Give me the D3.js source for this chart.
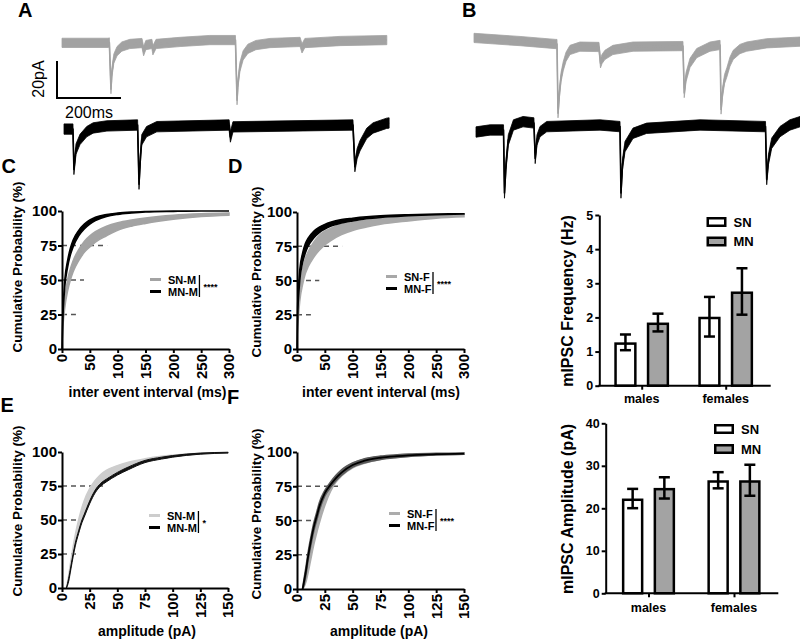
<!DOCTYPE html>
<html><head><meta charset="utf-8">
<script src="https://cdn.jsdelivr.net/npm/d3@7"></script>
<style>body{margin:0;background:#fff}svg{display:block}</style>
</head><body>
<svg id="c" width="800" height="641"></svg>
<script>
// ---------------- DATA ----------------
// example traces: [time (ms), current (pA, relative to baseline)]
const traceA_SN = [[0,-1],[144,-1],[148,-0.8],[153,-26],[156,-17],[162,-9.5],[172,-5.5],[187,-3],[212,-1.6],[250,-1.1],[255,-5.5],[262,-2.2],[281,-1.6],[284,-5],[294,-1.6],[369,-0.5],[462,0.5],[542,0.5],[547,-32],[550,-22.5],[556,-14],[566,-7.8],[581,-4.2],[606,-2.2],[650,-1.1],[744,-0.5],[750,-4],[759,-1.1],[869,0],[1015,0.5]];
const traceA_MN = [[0,-2.2],[28,-2.2],[31,-24],[37.5,-13],[50,-7.8],[71,-3.6],[91,-1.6],[134,-0.5],[230,0],[234.4,-32],[239,-17],[243,-8],[258,-3.6],[290,-0.9],[516,0],[520,-6.5],[528,-1],[903,0],[909,-22.5],[916,-15.5],[925,-11.2],[946,-4.5],[966,-1.6],[1008,0.9],[1016,1.1]];
const traceB_SN = [[0,2.2],[144,0.5],[256,-1.1],[259.4,-1.1],[262.5,-38.5],[267,-27.5],[272,-19],[279,-13],[287.5,-8],[300,-4.3],[331,-2.5],[390.6,-2.7],[395.3,-11.5],[400,-9.2],[409,-7],[434,-4.3],[497,-2.5],[653,-2.2],[657,-27.6],[662.5,-19],[675,-11.3],[696,-6],[737.5,-2.5],[769,-1.6],[772,-36.5],[776.5,-27.5],[783,-20],[790,-16.5],[800,-10.6],[810,-7],[831,-3.8],[852,-2.5],[915,-0.7],[1020,0.2]];
const traceB_MN = [[0,-2.7],[44,-1.6],[86,-1.6],[89,-35.7],[94,-20],[101,-7],[117,1.1],[147,2.9],[181,2.2],[185,-17],[190.6,-7],[200,-2.5],[221,0.2],[387.5,1.1],[450,0.2],[453,-35.7],[458,-20],[465.6,-10.6],[490.6,-3.4],[533,-0.7],[700,1.1],[904.7,0.2],[908.4,-28.4],[914,-17.5],[924,-8.8],[950,-2.5],[981,1.1],[1013,2.9]];
const noiseSN = 2.5, noiseMN = 2.8;          // pA noise band half-width
const scaleBarValues = [200, 20];             // ms, pA

// cumulative distributions (%), lower / upper band
const cumC_x   = [0,1,2,5,10,15,20,30,40,50,60,80,100,125,150,200,250,300];
const cumC_SNhi= [0,16,22,36,50,58,64,72,78,82,85,89,91.5,93.5,95,97,98,98.5];
const cumC_SNlo= [0,12,18,30,42,50,56,64,70,74,77.5,82,86,89,91,94,96,97];
const cumC_MNhi= [0,20,30,50,64,73,79,86,90.5,93.5,95.5,97.5,98.5,99.2,99.6,100,100,100];
const cumC_MNlo= [0,16,26,45,59,68,74,82,87,90.5,93,96,97.5,98.5,99.2,99.7,100,100];

const cumD_x   = [0,1,2,5,10,15,20,30,40,50,60,80,100,125,150,200,250,300];
const cumD_SNhi= [0,22,30,46,58,66,71,78,83,86,88,91,92.5,94,95,96.5,97.5,98];
const cumD_SNlo= [0,14,20,35,47,55,60,67,72,76,79,83.5,86.5,89,91,93.5,95.5,96.5];
const cumD_MNhi= [0,30,40,58,70,77,81,86,89,91,92.5,94.5,95.5,96.5,97.2,98,98.5,98.8];
const cumD_MNlo= [0,24,32,50,63,70,75,81,85,87.5,89.5,92,93.5,95,96,97.2,98,98.5];

const cumE_x   = [4,6,8,10,12,15,18,20,25,30,35,40,50,60,75,90,100,125,150];
const cumE_SNhi= [0,9,20,30,39,50,59,64,73,79,83.5,86.5,90,92.5,95,96.8,97.6,99,99.6];
const cumE_SNlo= [0,5,14,23,31,42,50,55,65,72,77,81,86,89.5,93,95.5,96.8,98.6,99.4];
const cumE_MNhi= [0,7,16,25,33,42,50,54,64,72,77,80,85,89,93.8,96.2,97.4,99.2,99.8];
const cumE_MNlo= [0,5,14,23,31,40,48,52,62,70,75,78,83,87,92.2,94.8,96.2,98.4,99.2];

const cumF_x   = [5,6,8,10,12,15,18,20,25,30,35,40,50,60,75,90,100,125,150];
const cumF_SNhi= [0,2,9,18,27,39,49,55,67,76,82,86.5,92,94.5,96.5,97.5,98,98.6,99];
const cumF_SNlo= [0,1,5,12,20,32,42,48,61,71,78,82.5,88.5,91.5,94.5,96,96.8,97.8,98.4];
const cumF_MNhi= [0,6,16,27,36,48,57,63,72,78,83,87,92,95,97,98,98.5,99,99.3];
const cumF_MNlo= [0,2,10,21,30,42,51,57,68,74,79,83,89,92,94.6,96,96.7,97.8,98.3];

// reference dashed lines: [percentile, extent on x]
const dashC = [[25,25],[50,39.5],[75,81]];
const dashD = [[25,25],[50,40],[75,81]];
const dashE = [[25,13.5],[50,18],[75,39]];
const dashF = [[25,11.7],[50,20],[75,40]];

const cumYTicks = [0,25,50,75,100];
const iviTicks  = [0,50,100,150,200,250,300];
const ampTicks  = [0,25,50,75,100,125,150];

// bar charts
const groups = ["males","females"];
const conditions = ["SN","MN"];
const freqSN = [1.27,2.02], freqSNerr = [0.23,0.58];
const freqMN = [1.85,2.76], freqMNerr = [0.26,0.68];
const ampSN  = [22.3,26.6], ampSNerr  = [2.27,1.9];
const ampMN  = [24.8,26.6], ampMNerr  = [2.5,3.65];
const freqTicks = [0,1,2,3,4,5];
const ampBarTicks = [0,10,20,30,40];

// ---------------- DRAW ----------------
const FF = '"Liberation Sans", Arial, Helvetica, sans-serif';
const svg = d3.select("#c").attr("font-family", FF);

function txt(x, y, s, size, weight, opts = {}) {
  const t = svg.append("text").text(s)
    .attr("font-size", size).attr("font-weight", weight || "normal").attr("fill", "#000");
  if (opts.anchor) t.attr("text-anchor", opts.anchor);
  if (opts.rotate) t.attr("transform", `translate(${x},${y}) rotate(-90)`);
  else t.attr("x", x).attr("y", y);
  return t;
}

// ---- traces ----
const xT = d3.scaleLinear().domain([0, 1000]).range([0, 320]);
const yT = d3.scaleLinear().domain([0, -20]).range([0, 37]);
function drawTrace(data, x0, base, color, noise) {
  const g = svg.append("g").attr("transform", `translate(${x0},${base})`);
  g.append("path").datum(data)
    .attr("d", d3.area().x(d => xT(d[0])).y0(d => yT(d[1] - noise)).y1(d => yT(d[1] + noise)))
    .attr("fill", color).attr("stroke", color).attr("stroke-width", 0.8);
  g.append("path").datum(data)
    .attr("d", d3.line().x(d => xT(d[0])).y(d => yT(d[1])))
    .attr("fill", "none").attr("stroke", color).attr("stroke-width", 1.6).attr("stroke-linejoin", "round");
}
const traceGray = "#a2a2a2";
drawTrace(traceA_SN, 62, 41, traceGray, noiseSN);
drawTrace(traceA_MN, 64, 125, "#000", noiseMN);
drawTrace(traceB_SN, 474, 42, traceGray, noiseSN);
drawTrace(traceB_MN, 476, 127, "#000", noiseMN);

// scale bar
{
  const sx = 57, sy = 98;
  svg.append("path")
    .attr("d", `M${sx},${sy - yT(-scaleBarValues[1])}V${sy}H${sx + xT(scaleBarValues[0])}`)
    .attr("fill", "none").attr("stroke", "#000").attr("stroke-width", 2);
  txt(44, 79, scaleBarValues[1] + "pA", 16, "normal", { anchor: "middle", rotate: true });
  txt(65, 118, scaleBarValues[0] + "ms", 16, "normal");
}

// ---- cumulative panels ----
function cumPanel(o) {
  const x = d3.scaleLinear().domain(o.xDomain).range(o.xRange);
  const y = d3.scaleLinear().domain([0, 100]).range(o.yRange);
  const g = svg.append("g");
  g.selectAll("line.dash").data(o.dashes).join("line").attr("class", "dash")
    .attr("x1", x(0)).attr("x2", d => x(d[1])).attr("y1", d => y(d[0])).attr("y2", d => y(d[0]))
    .attr("stroke", "#555").attr("stroke-width", 1.5).attr("stroke-dasharray", "5,4");
  o.series.forEach(s => {
    const pts = s.x.map((xv, i) => ({ x: xv, lo: s.lo[i], hi: s.hi[i] }));
    g.append("path").datum(pts)
      .attr("d", d3.area().x(d => x(d.x)).y0(d => y(d.lo)).y1(d => y(d.hi)).curve(d3.curveMonotoneX))
      .attr("fill", s.fill).attr("stroke", s.fill).attr("stroke-width", s.sw || 1.5);
    if (s.line) g.append("path").datum(pts)
      .attr("d", d3.line().x(d => x(d.x)).y(d => y((d.lo + d.hi) / 2)).curve(d3.curveMonotoneX))
      .attr("fill", "none").attr("stroke", s.line).attr("stroke-width", 1.8);
  });
  const ya = g.append("g").attr("transform", `translate(${o.xRange[0]},0)`)
    .call(d3.axisLeft(y).tickValues(cumYTicks).tickSize(4).tickSizeOuter(0).tickPadding(1).tickFormat(d3.format("d")));
  const xa = g.append("g").attr("transform", `translate(0,${o.yRange[0]})`)
    .call(d3.axisBottom(x).tickValues(o.xTicks).tickSize(4).tickSizeOuter(0).tickFormat(() => ""));
  [ya, xa].forEach(a => {
    a.attr("font-family", FF).attr("font-size", 15).attr("font-weight", "bold");
    a.select(".domain").attr("stroke-width", 2);
    a.selectAll(".tick line").attr("stroke-width", 2);
    a.selectAll("text").attr("fill", "#000");
  });
  // rotated x tick labels
  const lab = g.append("g").attr("class", "xlabels");
  o.xTicks.forEach(v => {
    lab.append("g").attr("transform", `translate(${x(v)},${o.yRange[0] + 5})`)
      .append("g").attr("transform", "rotate(-90)")
      .append("text").attr("x", 0).attr("y", 0).attr("dy", "0.36em")
      .style("text-anchor", "end").text(String(v))
      .attr("font-size", 15).attr("font-weight", "bold").attr("fill", "#000");
  });
  // labels
  txt(o.yLabel[0], o.yLabel[1], "Cumulative Probability (%)", 13.5, "bold", { anchor: "middle", rotate: true });
  txt(o.xLabel[0], o.xLabel[1], o.xText, 14, "bold", { anchor: "middle" });
  // legend
  const [lx, ly] = o.legend;
  let maxR = 0;
  o.series.forEach((s, i) => {
    const yy = ly + i * 12;
    g.append("line").attr("x1", lx).attr("x2", lx + 11).attr("y1", yy).attr("y2", yy)
      .attr("stroke", s.legendColor).attr("stroke-width", 3);
    const t = g.append("text").attr("x", lx + 18).attr("y", yy + 4.5).text(s.name)
      .attr("font-size", 11).attr("font-weight", "bold").attr("fill", "#000");
    maxR = Math.max(maxR, lx + 18 + t.node().getComputedTextLength());
  });
  const bx = maxR + 1.5;
  g.append("line").attr("x1", bx).attr("x2", bx).attr("y1", ly - 4.5).attr("y2", ly + 17.5)
    .attr("stroke", "#000").attr("stroke-width", 1.3);
  g.append("text").attr("x", bx + 4).attr("y", ly + 10.5).text(o.stars)
    .attr("font-size", 9).attr("font-weight", "bold").attr("fill", "#000");
}

cumPanel({
  xDomain: [0, 300], xRange: [62, 229], yRange: [349, 211], xTicks: iviTicks, dashes: dashC,
  series: [
    { name: "SN-M", x: cumC_x, lo: cumC_SNlo, hi: cumC_SNhi, fill: "#a3a3a3", legendColor: "#a3a3a3" },
    { name: "MN-M", x: cumC_x, lo: cumC_MNlo, hi: cumC_MNhi, fill: "#000", legendColor: "#000" }
  ],
  yLabel: [22, 267], xLabel: [147.5, 397], xText: "inter event interval (ms)", legend: [150, 279.5], stars: "****"
});
cumPanel({
  xDomain: [0, 300], xRange: [297, 464], yRange: [349, 212], xTicks: iviTicks, dashes: dashD,
  series: [
    { name: "SN-F", x: cumD_x, lo: cumD_SNlo, hi: cumD_SNhi, fill: "#a8a8a8", legendColor: "#a8a8a8" },
    { name: "MN-F", x: cumD_x, lo: cumD_MNlo, hi: cumD_MNhi, fill: "#000", legendColor: "#000" }
  ],
  yLabel: [261, 272], xLabel: [381, 397], xText: "inter event interval (ms)", legend: [386, 276.5], stars: "****"
});
cumPanel({
  xDomain: [0, 150], xRange: [62, 228], yRange: [588, 452], xTicks: ampTicks, dashes: dashE,
  series: [
    { name: "SN-M", x: cumE_x, lo: cumE_SNlo, hi: cumE_SNhi, fill: "#cdcdcd", legendColor: "#cdcdcd" },
    { name: "MN-M", x: cumE_x, lo: cumE_MNlo, hi: cumE_MNhi, fill: "#111", legendColor: "#000", sw: 1 }
  ],
  yLabel: [22, 511], xLabel: [147, 636], xText: "amplitude (pA)", legend: [149, 515.5], stars: "*"
});
cumPanel({
  xDomain: [0, 150], xRange: [297, 464], yRange: [589, 452], xTicks: ampTicks, dashes: dashF,
  series: [
    { name: "SN-F", x: cumF_x, lo: cumF_SNlo, hi: cumF_SNhi, fill: "#acacac", legendColor: "#acacac" },
    { name: "MN-F", x: cumF_x, lo: cumF_MNlo, hi: cumF_MNhi, fill: "#5a5a5a", legendColor: "#000", line: "#000" }
  ],
  yLabel: [261, 514], xLabel: [379, 636], xText: "amplitude (pA)", legend: [389, 513.5], stars: "****"
});

// ---- bar panels ----
function barPanel(o) {
  const y = d3.scaleLinear().domain(o.yDomain).range(o.yRange);
  const xg = d3.scalePoint().domain(groups).range(o.centers);
  const xi = d3.scaleBand().domain(conditions).range([-o.half, o.half]).paddingInner(o.pin);
  const bw = xi.bandwidth();
  const g = svg.append("g");
  const vals = { SN: [o.sn, o.snErr], MN: [o.mn, o.mnErr] };
  const fills = { SN: "#fff", MN: "#a3a3a3" };
  const rows = [];
  groups.forEach((gr, gi) => conditions.forEach(c => rows.push({ gr, c, m: vals[c][0][gi], e: vals[c][1][gi] })));
  g.selectAll("rect.bar").data(rows).join("rect").attr("class", "bar")
    .attr("x", d => xg(d.gr) + xi(d.c) + 1.25).attr("width", bw - 2.5)
    .attr("y", d => y(d.m) + 1.25).attr("height", d => y(0) - y(d.m) - 1.25)
    .attr("fill", d => fills[d.c]).attr("stroke", "#000").attr("stroke-width", 2.5);
  const eb = g.selectAll("g.err").data(rows).join("g").attr("class", "err")
    .attr("transform", d => `translate(${xg(d.gr) + xi(d.c) + bw / 2},0)`);
  eb.append("line").attr("y1", d => y(d.m - d.e)).attr("y2", d => y(d.m + d.e));
  eb.append("line").attr("x1", -5.5).attr("x2", 5.5).attr("y1", d => y(d.m + d.e)).attr("y2", d => y(d.m + d.e));
  eb.append("line").attr("x1", -5.5).attr("x2", 5.5).attr("y1", d => y(d.m - d.e)).attr("y2", d => y(d.m - d.e));
  eb.selectAll("line").attr("stroke", "#000").attr("stroke-width", 2.5);
  // y axis
  const ya = g.append("g").attr("transform", `translate(${o.axisX[0]},0)`)
    .call(d3.axisLeft(y).tickValues(o.ticks).tickSize(4).tickSizeOuter(0).tickPadding(2).tickFormat(d3.format("d")));
  ya.attr("font-family", FF).attr("font-size", 12.5).attr("font-weight", "bold");
  ya.select(".domain").attr("stroke-width", 2);
  ya.selectAll(".tick line").attr("stroke-width", 2);
  ya.selectAll("text").attr("fill", "#000");
  // x axis
  g.append("line").attr("x1", o.axisX[0] - 1).attr("x2", o.axisX[1]).attr("y1", y(0)).attr("y2", y(0))
    .attr("stroke", "#000").attr("stroke-width", 2);
  const xa = g.append("g").attr("transform", `translate(0,${y(0)})`)
    .call(d3.axisBottom(xg).tickSize(4).tickSizeOuter(0).tickFormat(() => ""));
  xa.select(".domain").remove();
  xa.selectAll(".tick line").attr("stroke-width", 2);
  g.selectAll("text.xl").data(groups).join("text").attr("class", "xl")
    .attr("x", d => xg(d)).attr("y", y(0) + o.labelOff).attr("text-anchor", "middle").text(d => d)
    .attr("font-size", 12.5).attr("font-weight", "bold").attr("fill", "#000");
  // y label
  txt(o.yLabel[0], o.yLabel[1], o.yText, 16, "bold", { anchor: "middle", rotate: true });
  // legend
  conditions.forEach((c, i) => {
    const ly = o.legend[1] + i * o.legendGap;
    g.append("rect").attr("x", o.legend[0] + 1.25).attr("y", ly + 1.25).attr("width", 17.5).attr("height", 7.5)
      .attr("fill", fills[c]).attr("stroke", "#000").attr("stroke-width", 2.5);
    g.append("text").attr("x", o.legend[0] + 27).attr("y", ly + 9.5).text(c)
      .attr("font-size", 13).attr("font-weight", "bold").attr("fill", "#000");
  });
}

barPanel({
  yDomain: [0, 5], yRange: [385.7, 215], centers: [641.7, 725.7], half: 27.4, pin: 0.314,
  sn: freqSN, snErr: freqSNerr, mn: freqMN, mnErr: freqMNerr, ticks: freqTicks,
  axisX: [599.3, 770.7], labelOff: 17.5, yLabel: [573, 301], yText: "mIPSC Frequency (Hz)",
  legend: [706.5, 217], legendGap: 19.5
});
barPanel({
  yDomain: [0, 40], yRange: [593.3, 423.3], centers: [648.5, 734], half: 26.6, pin: 0.322,
  sn: ampSN, snErr: ampSNerr, mn: ampMN, mnErr: ampMNerr, ticks: ampBarTicks,
  axisX: [605.7, 778.3], labelOff: 18.4, yLabel: [573, 509], yText: "mIPSC Amplitude (pA)",
  legend: [714, 424], legendGap: 20
});

// ---- panel letters ----
[["A", 18, 17], ["B", 462, 17], ["C", 1.5, 173], ["D", 228, 173], ["E", 0.5, 412], ["F", 227, 404]]
  .forEach(([s, x, y]) => txt(x, y, s, 20, "bold"));
</script>
</body></html>
